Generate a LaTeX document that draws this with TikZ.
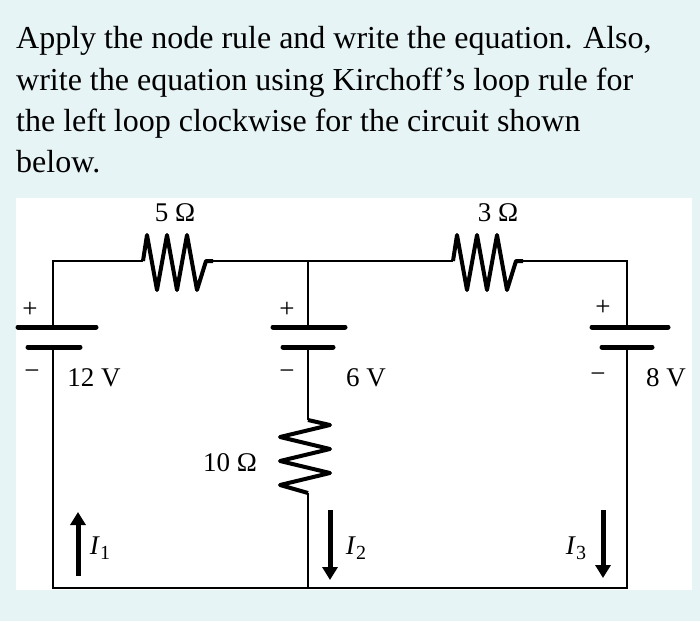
\documentclass[tikz,border=0pt]{standalone}
\usepackage{fontspec}
\setmainfont{Liberation Serif}
\usetikzlibrary{arrows.meta}
\definecolor{pagebg}{HTML}{E6F4F6}
\newcommand{\curr}[1]{\textit{I}\raisebox{-5pt}{\fontsize{20}{22}\selectfont #1}}
\tikzset{
  wire/.style={line width=2pt},
  plate/.style={line width=5pt,line cap=round},
  res/.style={line width=4pt,line join=round},
  cur/.style={line width=5pt,-{Triangle[length=13pt,width=15pt]}},
  lbl/.style={font=\fontsize{27}{29}\selectfont,inner sep=0pt},
  sgn/.style={font=\fontsize{27}{29}\selectfont,inner sep=0pt},
  qline/.style={font=\fontsize{32}{34}\selectfont,anchor=base west,inner sep=0pt}
}
\begin{document}
\begin{tikzpicture}[x=1pt,y=-1pt]
\fill[pagebg] (0,0) rectangle (700,621);
\fill[white] (16,198) rectangle (692,590);
\useasboundingbox (0,0) rectangle (700,621);

% question
\node[qline] (q1) at (16,48) {Apply the node rule and write the equation. Also,};
\node[qline] (q2) at (16,90) {write the equation using Kirchoff's loop rule for};
\node[qline] (q3) at (16,131) {the left loop clockwise for the circuit shown};
\node[qline] (q4) at (16,172) {below.};

% corners and terminals
\coordinate (tl) at (53,261);
\coordinate (tm) at (308,261);
\coordinate (tr) at (627,261);
\coordinate (bl) at (53,588);
\coordinate (bm) at (308,588);
\coordinate (br) at (627,588);
\coordinate (b1p) at (53,327);
\coordinate (b1n) at (53,347);
\coordinate (b2p) at (308,327);
\coordinate (b2n) at (308,347);
\coordinate (b3p) at (627,327);
\coordinate (b3n) at (627,347);
\coordinate (r1a) at (143,261);
\coordinate (r1b) at (213,261);
\coordinate (r2a) at (453,261);
\coordinate (r2b) at (523,261);
\coordinate (r3a) at (308,420);
\coordinate (r3b) at (308,493);

% wires
\draw[wire] (b1p) -- (tl) -- (r1a);
\draw[wire] (r1b) -- (tm) -- (r2a);
\draw[wire] (r2b) -- (tr) -- (b3p);
\draw[wire] (tm) -- (b2p);
\draw[wire] (b1n) -- (bl) -- (bm) -- (br) -- (b3n);
\draw[wire] (b2n) -- (r3a);
\draw[wire] (r3b) -- (bm);

% batteries
\draw[plate] (18,327) -- (96,327);
\draw[plate] (28,347) -- (80,347);
\draw[plate] (273,327) -- (345,327);
\draw[plate] (283,347) -- (333,347);
\draw[plate] (592,327) -- (668,327);
\draw[plate] (602,347) -- (652,347);

% resistors
\draw[res] (r1a) -- (147,235) -- (157,290) -- (167,235) -- (177,290) -- (187,235) -- (197,290) -- (206,261) -- (r1b);
\draw[res] (r2a) -- (457,235) -- (467,290) -- (477,235) -- (487,290) -- (497,235) -- (507,290) -- (516,261) -- (r2b);
\draw[res] (r3a) -- (330,425) -- (280,437) -- (330,449) -- (280,461) -- (330,473) -- (280,485) -- (r3b);

% labels
\node[lbl] (l5) at (175,213) {5 Ω};
\node[lbl] (l3) at (498,213) {3 Ω};
\node[lbl] (l10) at (230,463) {10 Ω};
\node[lbl] (l12) at (94,378) {12 V};
\node[lbl] (l6) at (366,378) {6 V};
\node[lbl] (l8) at (666,378) {8 V};
\node[sgn] (p1) at (30,310) {+};
\node[sgn] (m1) at (32,375) {−};
\node[sgn] (p2) at (287,310) {+};
\node[sgn] (m2) at (287,375) {−};
\node[sgn] (p3) at (603,308) {+};
\node[sgn] (m3) at (598,378) {−};

% currents
\coordinate (i1a) at (78,576);
\coordinate (i1b) at (78,512);
\coordinate (i2a) at (330,510);
\coordinate (i2b) at (330,580);
\coordinate (i3a) at (603,510);
\coordinate (i3b) at (603,578);
\draw[cur] (i1a) -- (i1b);
\draw[cur] (i2a) -- (i2b);
\draw[cur] (i3a) -- (i3b);
\node[lbl] (n1) at (100,548) {\curr{1}};
\node[lbl] (n2) at (356,548) {\curr{2}};
\node[lbl] (n3) at (576,548) {\curr{3}};
\end{tikzpicture}
\end{document}
